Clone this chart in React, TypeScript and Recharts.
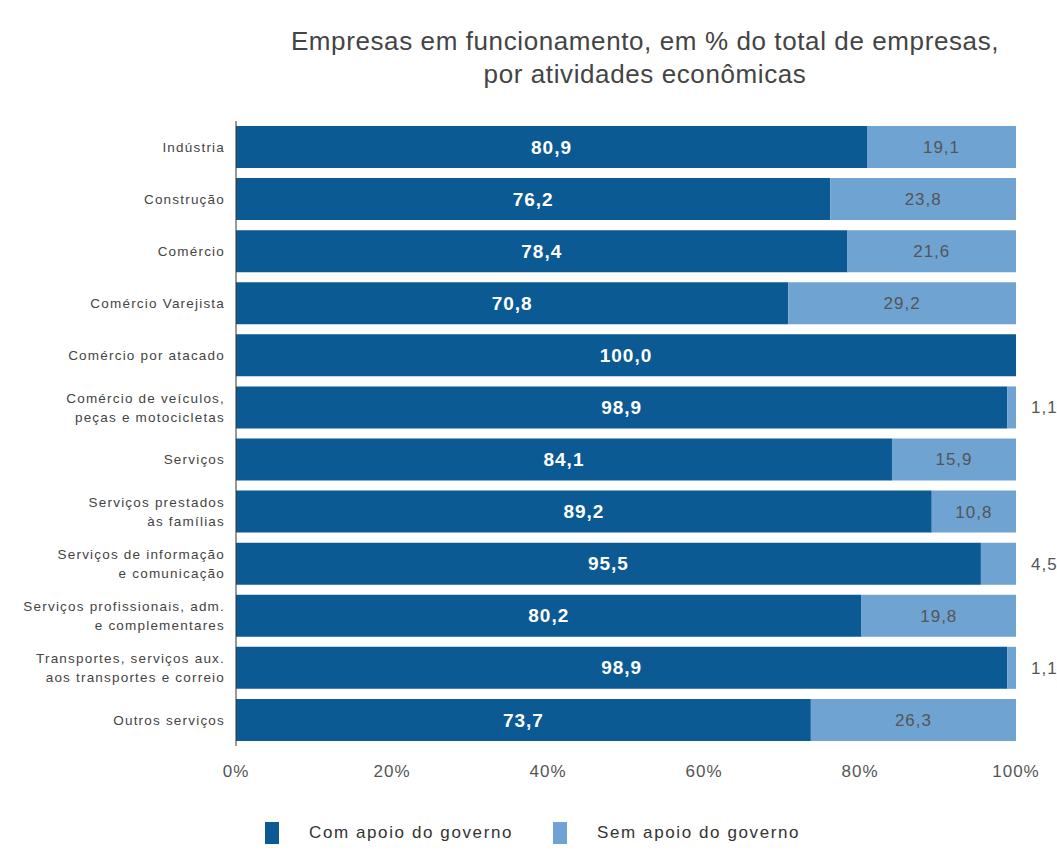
// Empresas em funcionamento por atividade econômica (barras empilhadas horizontais)
import React from "react";
import {
  BarChart,
  Bar,
  XAxis,
  YAxis,
  LabelList,
  Legend,
} from "recharts";

const atividades = [
  "Indústria",
  "Construção",
  "Comércio",
  "Comércio Varejista",
  "Comércio por atacado",
  "Comércio de veículos,|peças e motocicletas",
  "Serviços",
  "Serviços prestados|às famílias",
  "Serviços de informação|e comunicação",
  "Serviços profissionais, adm.|e complementares",
  "Transportes, serviços aux.|aos transportes e correio",
  "Outros serviços",
];

const comApoio = [80.9, 76.2, 78.4, 70.8, 100.0, 98.9, 84.1, 89.2, 95.5, 80.2, 98.9, 73.7];
const semApoio = [19.1, 23.8, 21.6, 29.2, 0, 1.1, 15.9, 10.8, 4.5, 19.8, 1.1, 26.3];

const ticksX = [0, 20, 40, 60, 80, 100];

const AZUL_ESCURO = "#0b5a94";
const AZUL_CLARO = "#6fa3d2";
const FONTE = "'Liberation Sans', Arial, sans-serif";

const dados = atividades.map((nome, i) => ({
  nome,
  com: comApoio[i],
  sem: semApoio[i],
}));

const fmt = (v: number) => v.toFixed(1).replace(".", ",");

function TickCategoria(props: any) {
  const { x, y, payload } = props;
  const linhas = String(payload.value).split("|");
  const lh = 19;
  const y0 = -((linhas.length - 1) * lh) / 2;
  return (
    <text
      x={x - 3}
      y={y}
      textAnchor="end"
      fontSize={13.5}
      letterSpacing={1.2}
      fill="#444"
      fontFamily={FONTE}
    >
      {linhas.map((l, i) => (
        <tspan key={i} x={x - 3} y={y + y0 + i * lh} dy="0.35em">
          {l}
        </tspan>
      ))}
    </text>
  );
}

function RotuloCom(props: any) {
  const { x, y, width, height, value } = props;
  return (
    <text
      x={x + width / 2}
      y={y + height / 2}
      dy="0.35em"
      textAnchor="middle"
      fill="#ffffff"
      fontWeight="bold"
      fontSize={19}
      letterSpacing={1}
      fontFamily={FONTE}
    >
      {fmt(Number(value))}
    </text>
  );
}

function RotuloSem(props: any) {
  const { x, y, width, height, value } = props;
  const v = Number(value);
  if (!v) return null;
  const fora = v < 8;
  return (
    <text
      x={fora ? x + width + 15 : x + width / 2}
      y={y + height / 2}
      dy="0.35em"
      textAnchor={fora ? "start" : "middle"}
      fill="#555"
      fontSize={17}
      letterSpacing={1}
      fontFamily={FONTE}
    >
      {fmt(v)}
    </text>
  );
}

function Legenda() {
  const itens = [
    { nome: "Com apoio do governo", cor: AZUL_ESCURO },
    { nome: "Sem apoio do governo", cor: AZUL_CLARO },
  ];
  return (
    <div
      style={{
        display: "flex",
        paddingLeft: 257,
        paddingTop: 41,
        fontFamily: FONTE,
        fontSize: 17,
        letterSpacing: 1.6,
        color: "#333",
      }}
    >
      {itens.map((it) => (
        <div key={it.nome} style={{ display: "flex", alignItems: "center", marginRight: 40 }}>
          <span
            style={{ width: 14, height: 22, background: it.cor, display: "inline-block", marginRight: 30 }}
          />
          <span>{it.nome}</span>
        </div>
      ))}
    </div>
  );
}

export default function App() {
  // posicionado fora do fluxo para não gerar barra de rolagem
  return (
    <div
      style={{
        position: "absolute",
        top: 8,
        left: 8,
        width: 1049,
        height: 840,
        background: "#fff",
        overflow: "hidden",
      }}
    >
      <div
        style={{
          position: "absolute",
          top: 17,
          left: 262,
          width: 750,
          textAlign: "center",
          fontFamily: FONTE,
          fontSize: 26,
          letterSpacing: 0.6,
          lineHeight: "33px",
          color: "#444",
        }}
      >
        Empresas em funcionamento, em % do total de empresas,
        <br />
        por atividades econômicas
      </div>
      <BarChart
        width={1049}
        height={840}
        data={dados}
        layout="vertical"
        margin={{ top: 113, right: 41, bottom: 0, left: 0 }}
        barSize={42}
      >
        <XAxis
          type="number"
          domain={[0, 100]}
          ticks={ticksX}
          tickFormatter={(v) => `${v}%`}
          axisLine={false}
          tickLine={false}
          tick={{ fontSize: 17, fill: "#555", fontFamily: FONTE, letterSpacing: 1 }}
          tickMargin={13}
          height={35}
        />
        <YAxis
          type="category"
          dataKey="nome"
          width={228}
          axisLine={{ stroke: "#333", strokeWidth: 1 }}
          tickLine={false}
          tick={<TickCategoria />}
          interval={0}
        />
        <Legend verticalAlign="bottom" height={67} content={() => <Legenda />} />
        <Bar dataKey="com" stackId="a" fill={AZUL_ESCURO} isAnimationActive={false}>
          <LabelList dataKey="com" content={<RotuloCom />} />
        </Bar>
        <Bar dataKey="sem" stackId="a" fill={AZUL_CLARO} isAnimationActive={false}>
          <LabelList dataKey="sem" content={<RotuloSem />} />
        </Bar>
      </BarChart>
    </div>
  );
}
